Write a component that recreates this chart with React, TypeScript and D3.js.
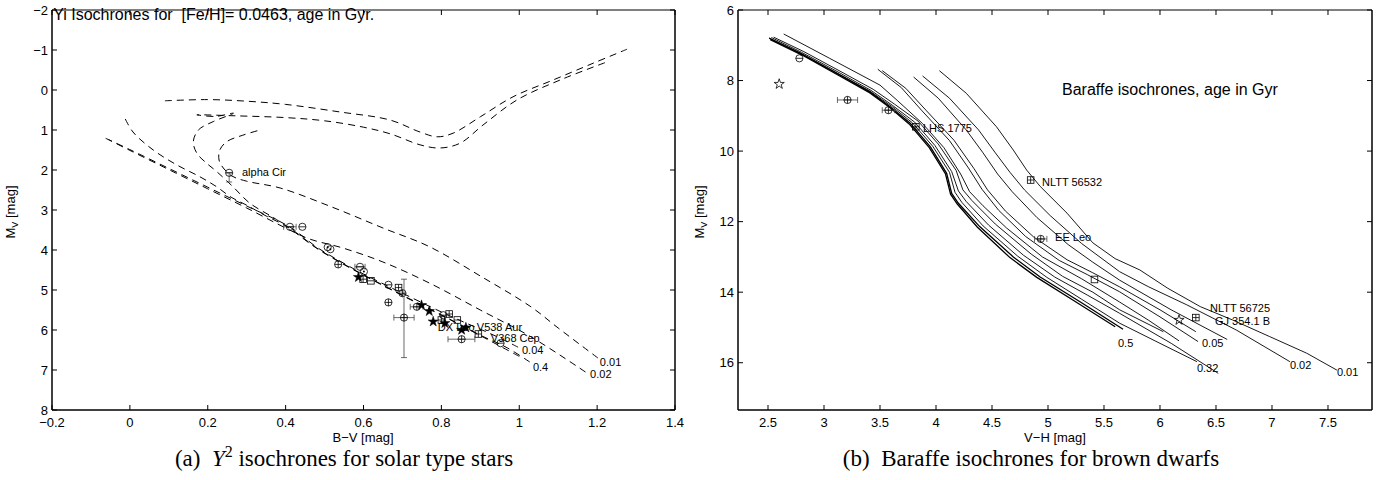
import React from "react";
import * as d3 from "d3";

type Pt = [number, number];

// ================= Panel (a): Yi isochrones, B-V vs Mv =================
const bvTicks = [-0.2, 0, 0.2, 0.4, 0.6, 0.8, 1, 1.2, 1.4];
const mvTicksA = [-2, -1, 0, 1, 2, 3, 4, 5, 6, 7, 8];

const yi001: Pt[] = [[1.202, 6.7], [1.1, 5.95], [1.03, 5.42], [0.9, 4.65], [0.77, 3.92], [0.65, 3.45], [0.52, 2.93], [0.386, 2.45], [0.3, 2.28], [0.262, 2.15], [0.24, 1.95], [0.229, 1.75], [0.231, 1.5], [0.249, 1.29], [0.29, 1.13], [0.334, 1.0]];
const yi002: Pt[] = [[1.17, 7.05], [1.03, 6.17], [0.9, 5.5], [0.77, 4.83], [0.65, 4.3], [0.547, 3.95], [0.46, 3.72], [0.4, 3.45], [0.3, 2.95], [0.2, 2.47], [0.1, 1.99], [0.0, 1.51], [-0.055, 1.24]];
const yi004: Pt[] = [[0.997, 6.43], [0.95, 6.2], [0.9, 5.98], [0.85, 5.77], [0.8, 5.55], [0.7, 5.08], [0.6, 4.6], [0.54, 4.28], [0.48, 3.93], [0.41, 3.42], [0.3, 2.9], [0.2, 2.43], [0.1, 1.96], [0.0, 1.49], [-0.064, 1.2]];
const yi04: Pt[] = [[1.027, 6.8], [0.97, 6.45], [0.9, 6.13], [0.8, 5.62], [0.7, 5.13], [0.6, 4.62], [0.54, 4.3], [0.48, 3.95], [0.41, 3.45], [0.35, 3.15], [0.3, 2.88], [0.26, 2.68], [0.223, 2.42], [0.18, 2.17], [0.12, 1.87], [0.06, 1.5], [0.008, 1.05], [-0.013, 0.7]];
const yiHookB: Pt[] = [[1.0, 6.66], [0.9, 6.14], [0.8, 5.63], [0.7, 5.14], [0.6, 4.63], [0.54, 4.31], [0.48, 3.96], [0.41, 3.46], [0.367, 3.18], [0.308, 2.83], [0.265, 2.42], [0.223, 2.04], [0.197, 1.83], [0.172, 1.58], [0.163, 1.29], [0.176, 1.0], [0.214, 0.79], [0.266, 0.58], [0.22, 0.66], [0.172, 0.62], [0.27, 0.645], [0.4, 0.69], [0.5, 0.77], [0.6, 0.93], [0.67, 1.1], [0.745, 1.37], [0.796, 1.45], [0.848, 1.33], [0.907, 0.875], [0.994, 0.25], [1.105, -0.25], [1.225, -0.7]];
const yiGiantA: Pt[] = [[0.09, 0.27], [0.2, 0.24], [0.3, 0.28], [0.4, 0.36], [0.54, 0.55], [0.668, 0.75], [0.745, 1.05], [0.789, 1.17], [0.83, 1.08], [0.9, 0.67], [0.984, 0.17], [1.087, -0.25], [1.19, -0.67], [1.277, -1.02]];
const yiCurves: Pt[][] = [yi001, yi002, yi004, yi04, yiHookB, yiGiantA];

const yiAgeLabels = [
  { text: "0.01", x: 1.207, y: 6.9 },
  { text: "0.02", x: 1.182, y: 7.2 },
  { text: "0.04", x: 1.007, y: 6.6 },
  { text: "0.4", x: 1.035, y: 7.03 },
];
const yiNames = [
  { text: "alpha Cir", x: 0.288, y: 2.15 },
  { text: "DX Leo", x: 0.791, y: 6.03 },
  { text: "V538 Aur", x: 0.891, y: 6.03 },
  { text: "V368 Cep", x: 0.927, y: 6.3 },
];

type Star = { t: string; x: number; y: number; xe?: [number, number]; ye?: [number, number] };
const yiStars: Star[] = [
  { t: "cminus", x: 0.255, y: 2.07, ye: [2.07, 2.3] },
  { t: "cminus", x: 0.411, y: 3.42, xe: [0.395, 0.427] },
  { t: "cminus", x: 0.443, y: 3.42 },
  { t: "cdot", x: 0.508, y: 3.93 },
  { t: "cdot", x: 0.515, y: 3.98 },
  { t: "cplus", x: 0.535, y: 4.36 },
  { t: "cminus", x: 0.591, y: 4.42, xe: [0.578, 0.604] },
  { t: "cdot", x: 0.601, y: 4.54 },
  { t: "star", x: 0.587, y: 4.68 },
  { t: "sqplus", x: 0.599, y: 4.73 },
  { t: "sqminus", x: 0.619, y: 4.77 },
  { t: "cminus", x: 0.664, y: 4.87 },
  { t: "sqplus", x: 0.69, y: 4.94 },
  { t: "cplus", x: 0.7, y: 5.08 },
  { t: "cplus", x: 0.704, y: 5.69, xe: [0.678, 0.73], ye: [4.73, 6.69] },
  { t: "cplus", x: 0.664, y: 5.31 },
  { t: "cplus", x: 0.737, y: 5.42, xe: [0.72, 0.753] },
  { t: "star", x: 0.749, y: 5.38 },
  { t: "star", x: 0.769, y: 5.53 },
  { t: "star", x: 0.779, y: 5.79 },
  { t: "cminus", x: 0.805, y: 5.63 },
  { t: "sqplus", x: 0.82, y: 5.6 },
  { t: "sqplus", x: 0.8, y: 5.75 },
  { t: "star", x: 0.809, y: 5.83 },
  { t: "sqminus", x: 0.841, y: 5.75 },
  { t: "star", x: 0.852, y: 6.0 },
  { t: "star", x: 0.863, y: 5.94 },
  { t: "cplus", x: 0.852, y: 6.23, xe: [0.817, 0.886] },
  { t: "sqplus", x: 0.895, y: 6.1 },
  { t: "cminus", x: 0.952, y: 6.33 },
];

// ================= Panel (b): Baraffe isochrones, V-H vs Mv =================
const vhTicks = [2.5, 3, 3.5, 4, 4.5, 5, 5.5, 6, 6.5, 7, 7.5];
const mvTicksB = [6, 8, 10, 12, 14, 16];

const bar05: Pt[] = [[2.51, 6.8], [2.79, 7.23], [3.14, 7.84], [3.41, 8.32], [3.59, 8.74], [3.77, 9.21], [3.95, 9.88], [4.095, 10.63], [4.14, 11.2], [4.2, 11.48], [4.39, 12.14], [4.69, 13.0], [4.93, 13.57], [5.3, 14.3], [5.67, 15.05]];
const bar1: Pt[] = [[2.52, 6.84], [2.8, 7.27], [3.14, 7.87], [3.41, 8.35], [3.59, 8.77], [3.76, 9.23], [3.94, 9.9], [4.085, 10.65], [4.13, 11.22], [4.19, 11.5], [4.37, 12.16], [4.66, 13.02], [4.9, 13.58], [5.25, 14.28], [5.6, 14.98]];
const bar032: Pt[] = [[2.51, 6.79], [2.79, 7.22], [3.14, 7.83], [3.41, 8.3], [3.6, 8.72], [3.79, 9.2], [3.97, 9.86], [4.12, 10.6], [4.17, 11.17], [4.23, 11.45], [4.42, 12.12], [4.73, 12.98], [4.99, 13.58], [5.3, 14.2], [5.64, 14.88], [6.0, 15.45], [6.33, 15.97]];
const bar025: Pt[] = [[2.53, 6.78], [2.8, 7.2], [3.15, 7.8], [3.42, 8.28], [3.61, 8.7], [3.81, 9.18], [3.99, 9.84], [4.14, 10.58], [4.2, 11.13], [4.27, 11.43], [4.47, 12.1], [4.78, 12.95], [5.06, 13.57], [5.35, 14.08], [5.64, 14.6], [6.1, 15.45], [6.52, 16.3]];
const bar02: Pt[] = [[2.55, 6.77], [2.82, 7.18], [3.17, 7.78], [3.44, 8.25], [3.63, 8.67], [3.84, 9.15], [4.02, 9.8], [4.18, 10.55], [4.24, 11.1], [4.32, 11.4], [4.53, 12.07], [4.85, 12.92], [5.13, 13.55], [5.4, 14.0], [5.64, 14.5], [6.03, 15.12]];
const bar012: Pt[] = [[2.64, 6.68], [3.05, 7.37], [3.5, 8.13], [3.66, 8.58], [3.88, 9.22], [4.07, 9.9], [4.22, 10.65], [4.3, 11.15], [4.42, 11.55], [4.63, 12.18], [4.95, 13.0], [5.3, 13.62], [5.64, 14.28], [5.9, 14.8], [6.17, 15.38]];
const bar005: Pt[] = [[3.48, 7.68], [3.69, 8.2], [3.87, 8.84], [4.12, 9.7], [4.29, 10.48], [4.41, 11.08], [4.56, 11.68], [4.8, 12.42], [5.1, 13.1], [5.35, 13.5], [5.64, 13.99], [6.0, 14.7], [6.34, 15.4]];
const bar004: Pt[] = [[3.52, 7.72], [3.73, 8.22], [3.91, 8.84], [4.16, 9.69], [4.34, 10.5], [4.46, 11.1], [4.62, 11.7], [4.87, 12.43], [5.17, 13.08], [5.4, 13.45], [5.64, 13.85], [6.0, 14.5], [6.32, 15.12]];
const bar003: Pt[] = [[3.8, 7.9], [4.02, 8.5], [4.27, 9.4], [4.42, 10.05], [4.55, 10.65], [4.68, 11.15], [4.9, 11.88], [5.18, 12.65], [5.4, 13.15], [5.64, 13.66], [6.1, 14.5], [6.6, 15.34]];
const bar002: Pt[] = [[3.88, 7.87], [4.12, 8.5], [4.38, 9.4], [4.53, 10.05], [4.66, 10.6], [4.79, 11.1], [5.02, 11.83], [5.3, 12.62], [5.64, 13.42], [5.9, 13.85], [6.24, 14.36], [6.68, 15.07], [7.16, 15.97]];
const bar001: Pt[] = [[4.03, 7.72], [4.27, 8.36], [4.54, 9.31], [4.69, 9.97], [4.81, 10.54], [4.93, 11.0], [5.17, 11.76], [5.4, 12.6], [5.6, 13.05], [5.82, 13.37], [6.07, 13.89], [6.36, 14.41], [6.65, 14.79], [6.98, 15.26], [7.31, 15.73], [7.58, 16.21]];
const barThick: Pt[][] = [bar05, bar1];
const barThin: Pt[][] = [bar032, bar025, bar02, bar012, bar005, bar004, bar003, bar002, bar001];

const barAgeLabels = [
  { text: "0.5", x: 5.625, y: 15.55 },
  { text: "0.05", x: 6.375, y: 15.55 },
  { text: "0.32", x: 6.33, y: 16.26 },
  { text: "0.02", x: 7.16, y: 16.18 },
  { text: "0.01", x: 7.58, y: 16.38 },
];
const barNames = [
  { text: "LHS 1775", x: 3.884, y: 9.46 },
  { text: "NLTT 56532", x: 4.946, y: 10.99 },
  { text: "EE Leo", x: 5.063, y: 12.55 },
  { text: "NLTT 56725", x: 6.446, y: 14.56 },
  { text: "GJ 354.1 B", x: 6.491, y: 14.93 },
];
const barStars: Star[] = [
  { t: "cminus", x: 2.78, y: 7.37 },
  { t: "ostar", x: 2.6, y: 8.1 },
  { t: "cplus", x: 3.21, y: 8.55, xe: [3.12, 3.3] },
  { t: "cplus", x: 3.575, y: 8.84, xe: [3.52, 3.63] },
  { t: "sqplus", x: 3.82, y: 9.31 },
  { t: "sqplus", x: 4.845, y: 10.82 },
  { t: "cplus", x: 4.935, y: 12.49, xe: [4.88, 4.99] },
  { t: "sq", x: 5.415, y: 13.64 },
  { t: "ostar", x: 6.17, y: 14.79 },
  { t: "sqplus", x: 6.32, y: 14.72 },
];

// ================= drawing =================
const SANS = "'Liberation Sans', Arial, Helvetica, sans-serif";
const SERIF = "'Liberation Serif', 'Times New Roman', serif";

const xA = d3.scaleLinear().domain([-0.2, 1.4]).range([52, 675]);
const yA = d3.scaleLinear().domain([-2, 8]).range([10, 410]);
const xB = d3.scaleLinear().domain([2.232, 7.893]).range([738, 1372]);
const yB = d3.scaleLinear().domain([6, 17.34]).range([10, 410]);

const fmt = (d: number) => (d < 0 ? "\u2212" + String(Math.abs(d)) : String(d));

function Frame({ xs, ys, xTicks, yTicks }: any) {
  const [x0, x1] = xs.range();
  const [y0, y1] = ys.range();
  const tl = 5;
  return (
    <g>
      {xTicks.map((t: number) => (
        <g key={"x" + t}>
          <line x1={xs(t)} x2={xs(t)} y1={y1} y2={y1 - tl} stroke="#000" strokeWidth={1} />
          <line x1={xs(t)} x2={xs(t)} y1={y0} y2={y0 + tl} stroke="#000" strokeWidth={1} />
          <text x={xs(t)} y={y1 + 17} textAnchor="middle" fontSize={13} fontFamily={SANS}>{fmt(t)}</text>
        </g>
      ))}
      {yTicks.map((t: number) => (
        <g key={"y" + t}>
          <line x1={x0} x2={x0 + tl} y1={ys(t)} y2={ys(t)} stroke="#000" strokeWidth={1} />
          <line x1={x1} x2={x1 - tl} y1={ys(t)} y2={ys(t)} stroke="#000" strokeWidth={1} />
          <text x={x0 - 4} y={ys(t) + 4.5} textAnchor="end" fontSize={13} fontFamily={SANS}>{fmt(t)}</text>
        </g>
      ))}
      <line x1={x0} x2={x1} y1={y0} y2={y0} stroke="#000" strokeWidth={1} />
      <line x1={x0} x2={x1} y1={y1} y2={y1} stroke="#000" strokeWidth={1.5} />
      <line x1={x0} x2={x0} y1={y0} y2={y1} stroke="#000" strokeWidth={1.5} />
      <line x1={x1} x2={x1} y1={y0} y2={y1} stroke="#000" strokeWidth={1.5} />
    </g>
  );
}

const starPath = d3.symbol(d3.symbolStar, 32)() as string;

function Marker({ m, xs, ys }: { m: Star; xs: any; ys: any }) {
  const cx = xs(m.x), cy = ys(m.y);
  const r = 3.6;
  const sw = 0.8;
  const parts: any[] = [];
  const eb = "#444";
  if (m.xe) {
    const a = xs(m.xe[0]), b = xs(m.xe[1]);
    parts.push(<line key="xe" x1={a} x2={b} y1={cy} y2={cy} stroke={eb} strokeWidth={0.8} />);
    parts.push(<line key="xe0" x1={a} x2={a} y1={cy - 3} y2={cy + 3} stroke={eb} strokeWidth={0.8} />);
    parts.push(<line key="xe1" x1={b} x2={b} y1={cy - 3} y2={cy + 3} stroke={eb} strokeWidth={0.8} />);
  }
  if (m.ye) {
    const a = ys(m.ye[0]), b = ys(m.ye[1]);
    parts.push(<line key="ye" x1={cx} x2={cx} y1={a} y2={b} stroke={eb} strokeWidth={0.8} />);
    parts.push(<line key="ye0" x1={cx - 3} x2={cx + 3} y1={a} y2={a} stroke={eb} strokeWidth={0.8} />);
    parts.push(<line key="ye1" x1={cx - 3} x2={cx + 3} y1={b} y2={b} stroke={eb} strokeWidth={0.8} />);
  }
  const t = m.t;
  if (t.startsWith("c")) {
    parts.push(<circle key="c" cx={cx} cy={cy} r={r} fill="none" stroke="#000" strokeWidth={sw} />);
    if (t === "cminus" || t === "cplus")
      parts.push(<line key="h" x1={cx - r} x2={cx + r} y1={cy} y2={cy} stroke="#000" strokeWidth={sw} />);
    if (t === "cplus")
      parts.push(<line key="v" x1={cx} x2={cx} y1={cy - r} y2={cy + r} stroke="#000" strokeWidth={sw} />);
    if (t === "cdot") parts.push(<circle key="d" cx={cx} cy={cy} r={1} fill="#000" />);
  } else if (t.startsWith("sq")) {
    const s = 3.3;
    parts.push(<rect key="s" x={cx - s} y={cy - s} width={2 * s} height={2 * s} fill="none" stroke="#000" strokeWidth={sw} />);
    if (t === "sqplus" || t === "sqminus")
      parts.push(<line key="h" x1={cx - s} x2={cx + s} y1={cy} y2={cy} stroke="#000" strokeWidth={sw} />);
    if (t === "sqplus")
      parts.push(<line key="v" x1={cx} x2={cx} y1={cy - s} y2={cy + s} stroke="#000" strokeWidth={sw} />);
  } else if (t === "star") {
    parts.push(<path key="st" d={starPath} transform={`translate(${cx},${cy})`} fill="#000" stroke="#000" strokeWidth={0.5} />);
  } else if (t === "ostar") {
    parts.push(<path key="st" d={starPath} transform={`translate(${cx},${cy})`} fill="none" stroke="#000" strokeWidth={sw} />);
  }
  return <g>{parts}</g>;
}

function MvLabel({ x, y }: { x: number; y: number }) {
  return (
    <text transform={`translate(${x},${y}) rotate(-90)`} textAnchor="middle" fontSize={13} fontFamily={SANS}>
      M<tspan dy={3} fontSize={9}>V</tspan>
      <tspan dy={-3}> [mag]</tspan>
    </text>
  );
}

export default function App() {
  const lineA = d3.line<Pt>().x((d) => xA(d[0])).y((d) => yA(d[1])).curve(d3.curveCatmullRom.alpha(0.5));
  const lineB = d3.line<Pt>().x((d) => xB(d[0])).y((d) => yB(d[1]));
  return (
    <svg width={1385} height={480} style={{ position: "absolute", left: 0, top: 0, background: "#fff" }}>
      <rect x={0} y={0} width={1385} height={480} fill="#fff" />
      {/* ---------- Panel (a) ---------- */}
      <g>
        {yiCurves.map((c, i) => (
          <path key={i} d={lineA(c) as string} fill="none" stroke="#000" strokeWidth={1} strokeDasharray="7,5" />
        ))}
        {yiStars.map((m, i) => <Marker key={i} m={m} xs={xA} ys={yA} />)}
        {yiAgeLabels.map((l) => (
          <text key={l.text} x={xA(l.x)} y={yA(l.y)} fontSize={11} fontFamily={SANS}>{l.text}</text>
        ))}
        {yiNames.map((l) => (
          <text key={l.text} x={xA(l.x)} y={yA(l.y)} fontSize={11} fontFamily={SANS}>{l.text}</text>
        ))}
        <text x={xA(-0.197)} y={yA(-1.75)} fontSize={16} fontFamily={SANS}>Yi Isochrones for {"\u00a0"}[Fe/H]= 0.0463, age in Gyr.</text>
        <Frame xs={xA} ys={yA} xTicks={bvTicks} yTicks={mvTicksA} />
        <text x={363} y={442} textAnchor="middle" fontSize={13} fontFamily={SANS}>B{"\u2212"}V [mag]</text>
        <MvLabel x={15} y={212} />
        <text x={344} y={466} textAnchor="middle" fontSize={23} fontFamily={SERIF}>
          (a){"\u00a0\u00a0"}<tspan fontStyle="italic">Y</tspan>
          <tspan dy={-9} fontSize={16}>2</tspan>
          <tspan dy={9}> isochrones for solar type stars</tspan>
        </text>
      </g>
      {/* ---------- Panel (b) ---------- */}
      <g>
        {barThick.map((c, i) => (
          <path key={"t" + i} d={lineB(c) as string} fill="none" stroke="#000" strokeWidth={1.3} />
        ))}
        {barThin.map((c, i) => (
          <path key={"n" + i} d={lineB(c) as string} fill="none" stroke="#000" strokeWidth={0.9} />
        ))}
        {barStars.map((m, i) => <Marker key={i} m={m} xs={xB} ys={yB} />)}
        {barAgeLabels.map((l) => (
          <text key={l.text} x={xB(l.x)} y={yB(l.y)} fontSize={11} fontFamily={SANS}>{l.text}</text>
        ))}
        {barNames.map((l) => (
          <text key={l.text} x={xB(l.x)} y={yB(l.y)} fontSize={11} fontFamily={SANS}>{l.text}</text>
        ))}
        <text x={xB(5.125)} y={yB(8.41)} fontSize={16} fontFamily={SANS}>Baraffe isochrones, age in Gyr</text>
        <Frame xs={xB} ys={yB} xTicks={vhTicks} yTicks={mvTicksB} />
        <text x={1055} y={442} textAnchor="middle" fontSize={13} fontFamily={SANS}>V{"\u2212"}H [mag]</text>
        <MvLabel x={704} y={212} />
        <text x={1031} y={466} textAnchor="middle" fontSize={23} fontFamily={SERIF}>
          (b){"\u00a0\u00a0"}Baraffe isochrones for brown dwarfs
        </text>
      </g>
    </svg>
  );
}
